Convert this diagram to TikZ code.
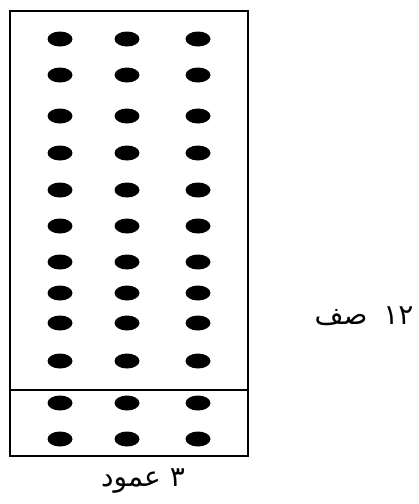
\documentclass[tikz,border=0pt]{standalone}
\usepackage{fontspec}
\newfontfamily\arabicfont[Script=Arabic]{DejaVu Sans}
\TeXXeTstate=1

\begin{document}
\begin{tikzpicture}[
  x=1pt, y=-1pt,
  every node/.style={font=\arabicfont\fontsize{28}{32}\selectfont},
  seat/.style={fill=black},
]

% ---- Frame: page in px, y downward ----
\useasboundingbox (0,0) rectangle (419,504);

% ---- Outer box and divider ----
\draw[line width=2pt] (10,11) rectangle (248,456);
\draw[line width=1.4pt] (10,390) -- (248,390);

% ---- Dots: 12 rows x 3 columns ----
\foreach \y in {39, 75, 116, 153, 190, 226, 262, 293, 323, 361, 403, 439} {
  \foreach \x in {60, 127, 198} {
    \fill[seat] (\x,\y) ellipse [x radius=12.5, y radius=7.5];
  }
}

% ---- Labels ----
\node (rowlabel) at (364,316) {\beginR ١٢\hspace{0.25em} صف\endR};
\node (collabel) at (143,481) {\beginR ٣ عمود\endR};

\end{tikzpicture}
\end{document}
